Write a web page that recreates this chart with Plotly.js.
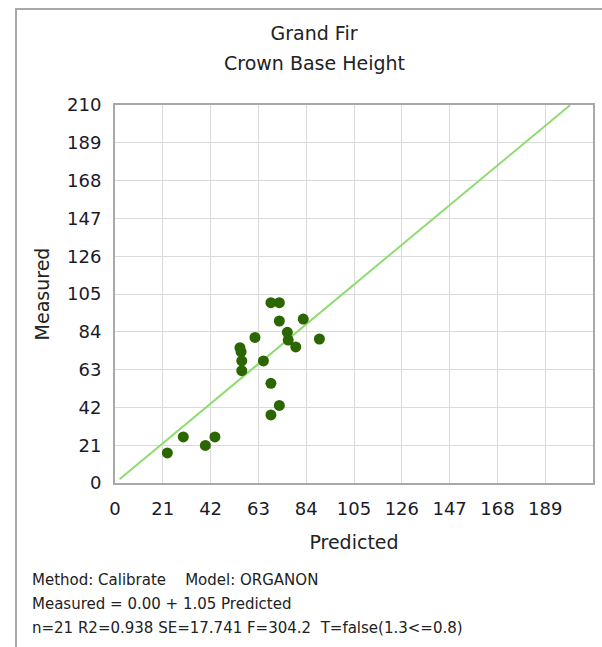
<!DOCTYPE html>
<html>
<head>
<meta charset="utf-8">
<script src="https://cdn.plot.ly/plotly-3.0.1.min.js"></script>
<style>
html,body{margin:0;padding:0;background:#fff;overflow:hidden;}
#chart{width:602px;height:647px;position:absolute;left:0;top:0;}
#frame{position:absolute;left:15px;top:8px;width:600px;height:637px;border-left:2px solid #a8a8a8;border-top:2px solid #a8a8a8;border-bottom:1px solid #e4e4e4;pointer-events:none;}
</style>
</head>
<body>
<div id="chart"></div>
<div id="frame"></div>
<script>
const titleLine1 = "Grand Fir";
const titleLine2 = "Crown Base Height";
const xTitle = "Predicted";
const yTitle = "Measured";
const tickValues = [0, 21, 42, 63, 84, 105, 126, 147, 168, 189, 210];
const xTickValues = [0, 21, 42, 63, 84, 105, 126, 147, 168, 189];
const predicted = [23.0, 30.0, 39.7, 43.9, 54.9, 55.4, 55.7, 55.7, 61.5, 65.2, 68.5, 72.2, 72.2, 75.7, 76.1, 79.4, 82.7, 89.8, 68.5, 72.2, 68.5];
const measured  = [16.7, 25.6, 20.9, 25.6, 75.2, 72.9, 67.9, 62.4, 80.9, 67.8, 100.2, 100.2, 90.0, 83.7, 79.4, 75.6, 91.1, 80.0, 55.4, 43.1, 37.8];
const intercept = 0.00;
const slope = 1.05;
const fitX = [2, 200];
const fitY = fitX.map(v => intercept + slope * v);
const footerLines = [
  "Method: Calibrate    Model: ORGANON",
  "Measured = 0.00 + 1.05 Predicted",
  "n=21 R2=0.938 SE=17.741 F=304.2  T=false(1.3<=0.8)"
];

const font = "DejaVu Sans, Verdana, sans-serif";

const traces = [
  {
    x: fitX, y: fitY, type: "scatter", mode: "lines",
    line: {color: "#8fdc72", width: 2}, hoverinfo: "skip", showlegend: false
  },
  {
    x: predicted, y: measured, type: "scatter", mode: "markers",
    marker: {color: "#2b6600", size: 11, line: {width: 0}}, showlegend: false
  }
];

const axisCommon = {
  range: [0, 210],
  autorange: false,
  showline: true, mirror: true, linecolor: "#a8a8a8", linewidth: 2,
  showgrid: true, gridcolor: "#dadada", gridwidth: 1,
  zeroline: false,
  ticks: "outside", ticklen: 8, tickcolor: "rgba(0,0,0,0)",
  tickfont: {family: font, size: 18, color: "#1a1a2a"},
  fixedrange: true
};

const layout = {
  width: 602, height: 647,
  margin: {l: 115, r: 9, t: 105, b: 164},
  paper_bgcolor: "#ffffff", plot_bgcolor: "#ffffff",
  title: {
    text: titleLine1,
    font: {family: font, size: 19, color: "#222222"},
    x: 314 / 602, xref: "container", xanchor: "center",
    y: 1 - 33 / 647, yref: "container", yanchor: "middle"
  },
  xaxis: Object.assign({}, axisCommon, {
    tickvals: xTickValues, ticktext: xTickValues.map(String),
    title: {text: xTitle, font: {family: font, size: 19, color: "#222222"}, standoff: 18}
  }),
  yaxis: Object.assign({}, axisCommon, {
    tickvals: tickValues, ticktext: tickValues.map(String),
    title: {text: yTitle, font: {family: font, size: 19, color: "#222222"}, standoff: 12}
  }),
  annotations: [
    {
      text: titleLine2, xref: "paper", yref: "paper",
      x: (314 - 115) / 478, y: 1 + (105 - 63) / 378,
      xanchor: "center", yanchor: "middle", showarrow: false,
      font: {family: font, size: 19, color: "#222222"}
    }
  ].concat(footerLines.map((t, i) => ({
    text: t, xref: "paper", yref: "paper",
    x: (30 - 115) / 478, y: -(580 + i * 24 - 483) / 378,
    xanchor: "left", yanchor: "middle", showarrow: false, align: "left",
    font: {family: font, size: 15, color: "#222222"}
  })))
};

Plotly.newPlot("chart", traces, layout, {displayModeBar: false, staticPlot: true});
</script>
</body>
</html>
